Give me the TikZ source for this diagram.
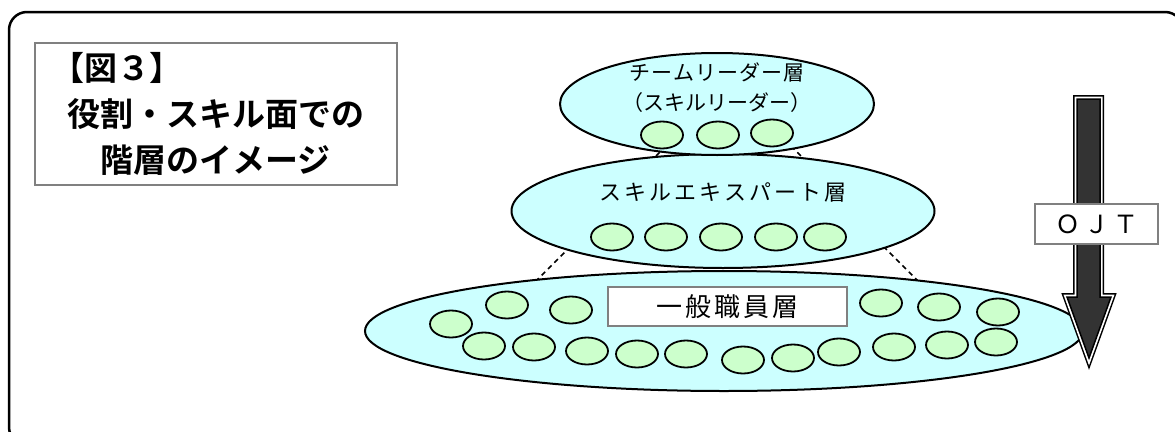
\documentclass[tikz,border=0pt]{standalone}
\usepackage{fontspec}
\setmainfont{Noto Sans CJK JP}[BoldFont={Noto Sans CJK JP Bold}]
\usetikzlibrary{shapes.geometric}
\definecolor{cyanfill}{HTML}{CCFFFF}
\definecolor{greenfill}{HTML}{CCFFCC}
\definecolor{boxgray}{HTML}{808080}
\definecolor{arrowdark}{HTML}{333333}
\newcommand{\pbr}[1]{{\addfontfeature{RawFeature=+palt}#1}}
\begin{document}
\begin{tikzpicture}[x=1pt,y=-1pt,
  layer/.style={ellipse, draw=black, line width=2pt, fill=cyanfill, inner sep=0pt},
  member/.style={ellipse, draw=black, line width=1.8pt, fill=greenfill, minimum width=42pt, minimum height=27pt, inner sep=0pt},
  graybox/.style={rectangle, draw=boxgray, line width=2pt, fill=white, inner sep=0pt},
  link/.style={line width=1.5pt, dash pattern=on 5pt off 4pt},
  frame/.style={line width=2.5pt, rounded corners=18pt}]
\useasboundingbox (0,0) rectangle (1175,431);
% outer frame
\draw[frame] (9,12) rectangle (1183,445);
% title
\node[graybox, minimum width=362pt, minimum height=142pt, align=left,
      font=\fontsize{33}{46}\selectfont\bfseries] (title) at (216,113.5)
  {\pbr{【}図３\pbr{】}\\役割・スキル面での\\\hspace*{1em}階層のイメージ};
% dashed links (behind the layers)
\coordinate (l1a) at (666,146); \coordinate (l1b) at (644,168);
\coordinate (r1a) at (791,146); \coordinate (r1b) at (813,168);
\coordinate (l2a) at (577,240); \coordinate (l2b) at (533,284);
\coordinate (r2a) at (877,240); \coordinate (r2b) at (921,284);
\draw[link] (l1a) -- (l1b);
\draw[link] (r1a) -- (r1b);
\draw[link] (l2a) -- (l2b);
\draw[link] (r2a) -- (r2b);
% layers
\node[layer, minimum width=718pt, minimum height=120pt] (base) at (724,331) {};
\node[layer, minimum width=423pt, minimum height=114pt] (mid) at (723,211) {};
\node[layer, minimum width=314pt, minimum height=102pt] (top) at (717,104) {};
% layer texts
\node[align=center, font=\fontsize{21}{30}\selectfont] (toptext) at (717,88)
  {{\addfontfeature{LetterSpace=5}チームリーダー層}\\（スキルリーダー）};
\node[font=\fontsize{22}{30}\selectfont] (midtext) at (723,192)
  {\addfontfeature{LetterSpace=14}スキルエキスパート層};
% members
\foreach \i/\x/\y in {1/662/135, 2/718/135, 3/772/133}
  \node[member] (t\i) at (\x,\y) {};
\foreach \i/\x/\y in {1/612/237, 2/666/237, 3/721/237, 4/776/237, 5/825/237}
  \node[member] (m\i) at (\x,\y) {};
\foreach \i/\x/\y in {1/451/324, 2/507/305, 3/571/310, 4/484/346, 5/534/347,
  6/587/351, 7/637/354, 8/686/354, 9/743/360, 10/793/358, 11/839/352,
  12/894/347, 13/947/345, 14/996/342, 15/881/303, 16/939/307, 17/998/312}
  \node[member] (b\i) at (\x,\y) {};
\node[graybox, minimum width=239pt, minimum height=39pt,
      font=\fontsize{26}{30}\selectfont] (basetext) at (727.5,306.5)
  {\addfontfeature{LetterSpace=11}一般職員層};
% OJT arrow
\def\arrowpath{(1077,99) -- (1100,99) -- (1100,297) -- (1111,297) -- (1089,358) -- (1067,297) -- (1077,297) -- cycle}
\draw[black, line width=8pt, line join=miter] \arrowpath;
\draw[white, line width=5pt, line join=miter] \arrowpath;
\draw[black, fill=arrowdark, line width=1.5pt, line join=miter] \arrowpath;
\node[graybox, minimum width=123pt, minimum height=40pt,
      font=\fontsize{25}{30}\selectfont] (ojt) at (1096.5,224)
  {\addfontfeature{LetterSpace=16}ＯＪＴ};
\end{tikzpicture}
\end{document}
